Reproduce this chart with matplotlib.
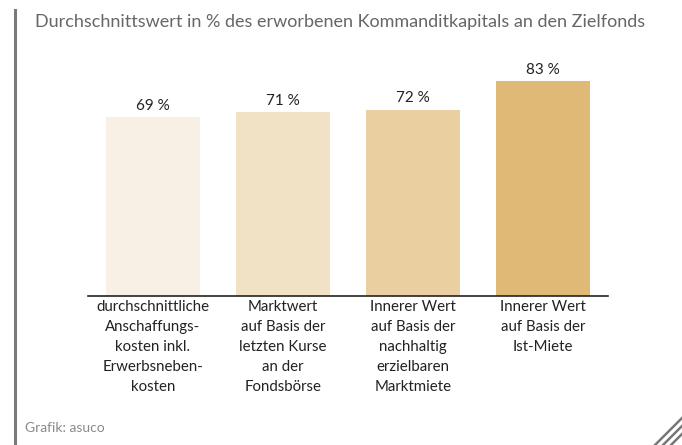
import matplotlib.pyplot as plt
from matplotlib.lines import Line2D
from matplotlib.transforms import blended_transform_factory

plt.rcParams['font.family'] = ['Lato', 'DejaVu Sans']

categories = [
    'durchschnittliche\nAnschaffungs-\nkosten inkl.\nErwerbsneben-\nkosten',
    'Marktwert\nauf Basis der\nletzten Kurse\nan der\nFondsbörse',
    'Innerer Wert\nauf Basis der\nnachhaltig\nerzielbaren\nMarktmiete',
    'Innerer Wert\nauf Basis der\nIst-Miete',
]
values = [69, 71, 72, 83]
value_labels = ['69 %', '71 %', '72 %', '83 %']
colors = ['#F8EFE5', '#F2E2C5', '#EAD0A1', '#E0B976']

subtitle = 'Durchschnittswert in % des erworbenen Kommanditkapitals an den Zielfonds'
source = 'Grafik: asuco'

fig = plt.figure(figsize=(6.82, 4.45), dpi=100)
ax = fig.add_axes([0.129, 0.3348, 0.7625, 0.5236])

x = range(len(values))
ax.bar(x, values, width=0.72, color=colors)
ax.set_xlim(-0.5, 3.5)
ax.set_ylim(0, 90)

for xi, v, lab in zip(x, values, value_labels):
    ax.annotate(lab, (xi, v), xytext=(0, 3), textcoords='offset points',
                ha='center', va='bottom', fontsize=11, color='#222222')

trans = blended_transform_factory(ax.transData, ax.transAxes)
for xi, cat in zip(x, categories):
    ax.annotate(cat, (xi, 0), xycoords=trans, xytext=(0, -3), textcoords='offset points',
                ha='center', va='top', fontsize=10.8, color='#222222', linespacing=1.55)

for s in ['top', 'right', 'left']:
    ax.spines[s].set_visible(False)
ax.spines['bottom'].set_color('#222222')
ax.spines['bottom'].set_linewidth(1.2)
ax.set_xticks([])
ax.set_yticks([])

# gray bar on the left
fig.add_artist(Line2D([15 / 682, 15 / 682], [0, 1 - 10 / 445], color='#7a7a7a', linewidth=2.2))

fig.text(35 / 682, 1 - 22 / 445, subtitle, fontsize=13, color='#666666', va='center', ha='left')
fig.text(25 / 682, 1 - 428 / 445, source, fontsize=10, color='#8a8a8a', va='center', ha='left')

# hatching in the bottom-right corner
for off in [0, 8, 16]:
    x0 = 655 + off
    fig.add_artist(Line2D([x0 / 682, (x0 + 40) / 682], [0, 40 / 445],
                          color='#777777', linewidth=1.8))

fig.savefig('out.png', dpi=100)
